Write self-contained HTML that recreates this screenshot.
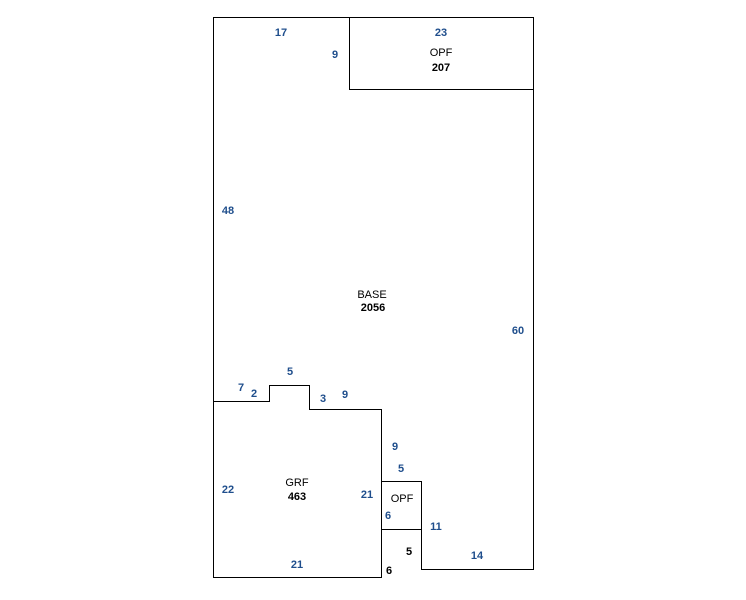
<!DOCTYPE html>
<html><head><style>
body{margin:0;background:#fff}
svg text{font-family:"Liberation Sans",Arial,sans-serif;font-size:11px;font-weight:bold;text-anchor:middle}
.b{fill:#1f4e8c}.k{fill:#000}
</style></head><body>
<svg width="746" height="595" viewBox="0 0 746 595" xmlns="http://www.w3.org/2000/svg">
<g fill="none" stroke="#000" stroke-width="1" shape-rendering="crispEdges">
<polyline points="213.5,401.5 213.5,17.5 533.5,17.5 533.5,569.5 421.5,569.5 421.5,529.5"/>
<rect x="349.5" y="17.5" width="184" height="72"/>
<polyline points="213.5,401.5 269.5,401.5 269.5,385.5 309.5,385.5 309.5,409.5 381.5,409.5 381.5,577.5 213.5,577.5 213.5,401.5"/>
<rect x="381.5" y="481.5" width="40" height="48"/>
</g>
<text class="b" x="281" y="36">17</text>
<text class="b" x="335" y="58">9</text>
<text class="b" x="441" y="36">23</text>
<text class="k" x="441" y="56" style="font-weight:normal">OPF</text>
<text class="k" x="441" y="71">207</text>
<text class="b" x="228" y="214">48</text>
<text class="k" x="372" y="298" style="font-weight:normal">BASE</text>
<text class="k" x="373" y="311">2056</text>
<text class="b" x="518" y="334">60</text>
<text class="b" x="290" y="375">5</text>
<text class="b" x="241" y="391">7</text>
<text class="b" x="254" y="397">2</text>
<text class="b" x="323" y="402">3</text>
<text class="b" x="345" y="398">9</text>
<text class="b" x="395" y="450">9</text>
<text class="b" x="401" y="472">5</text>
<text class="b" x="228" y="493">22</text>
<text class="k" x="297" y="486" style="font-weight:normal">GRF</text>
<text class="k" x="297" y="500">463</text>
<text class="b" x="367" y="498">21</text>
<text class="k" x="402" y="502" style="font-weight:normal">OPF</text>
<text class="b" x="388" y="519">6</text>
<text class="b" x="436" y="530">11</text>
<text class="k" x="409" y="555">5</text>
<text class="b" x="477" y="559">14</text>
<text class="b" x="297" y="568">21</text>
<text class="k" x="389" y="574">6</text>
</svg>
</body></html>
